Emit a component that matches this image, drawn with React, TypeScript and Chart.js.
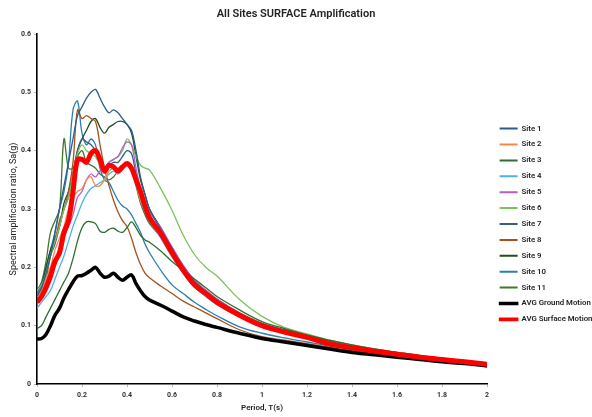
import React, { useEffect, useRef } from "react";
import { Chart, registerables } from "chart.js";

Chart.register(...registerables);

const FONT = "Roboto, 'Liberation Sans', sans-serif";

const periods = [
  0, 0.02, 0.04, 0.06, 0.08, 0.1, 0.12, 0.14, 0.16, 0.18,
  0.2, 0.22, 0.24, 0.26, 0.28, 0.3, 0.32, 0.34, 0.36, 0.38,
  0.4, 0.42, 0.44, 0.46, 0.48, 0.5,
  0.55, 0.6, 0.65, 0.7, 0.75, 0.8,
  0.9, 1, 1.1, 1.2, 1.3, 1.4, 1.5, 1.6, 1.7, 1.8, 1.9, 2,
];

const site1 = [
  0.15, 0.165, 0.19, 0.22, 0.26, 0.3, 0.34, 0.38, 0.42, 0.46,
  0.475, 0.49, 0.5, 0.505, 0.49, 0.475, 0.465, 0.47, 0.465, 0.455,
  0.445, 0.435, 0.4, 0.355, 0.325, 0.3,
  0.265, 0.232, 0.2, 0.175, 0.158, 0.143,
  0.12, 0.102, 0.091, 0.081, 0.071, 0.064, 0.058, 0.052, 0.047, 0.043, 0.039, 0.035,
];
const site2 = [
  0.15, 0.16, 0.18, 0.2, 0.23, 0.25, 0.27, 0.3, 0.32, 0.33,
  0.335, 0.35, 0.355, 0.34, 0.34, 0.35, 0.365, 0.37, 0.37, 0.375,
  0.38, 0.37, 0.345, 0.315, 0.3, 0.285,
  0.255, 0.222, 0.192, 0.168, 0.152, 0.138,
  0.117, 0.1, 0.089, 0.079, 0.07, 0.063, 0.057, 0.052, 0.047, 0.042, 0.038, 0.034,
];
const site3 = [
  0.095, 0.1, 0.115, 0.13, 0.145, 0.16, 0.175, 0.19, 0.215, 0.245,
  0.268, 0.278, 0.278, 0.275, 0.262, 0.26, 0.265, 0.267, 0.262, 0.26,
  0.268, 0.278, 0.268, 0.255, 0.247, 0.243,
  0.228, 0.21, 0.195, 0.18, 0.165, 0.15,
  0.127, 0.107, 0.095, 0.084, 0.075, 0.067, 0.06, 0.054, 0.049, 0.044, 0.04, 0.036,
];
const site4 = [
  0.13, 0.14, 0.15, 0.16, 0.18, 0.2, 0.22, 0.245, 0.27, 0.29,
  0.31, 0.325, 0.335, 0.34, 0.345, 0.35, 0.36, 0.365, 0.36, 0.37,
  0.375, 0.37, 0.345, 0.315, 0.295, 0.28,
  0.25, 0.218, 0.19, 0.166, 0.15, 0.136,
  0.115, 0.098, 0.088, 0.078, 0.069, 0.062, 0.056, 0.051, 0.046, 0.042, 0.038, 0.034,
];
const site5 = [
  0.145, 0.155, 0.175, 0.2, 0.215, 0.22, 0.25, 0.27, 0.29, 0.32,
  0.33, 0.35, 0.36, 0.355, 0.365, 0.37, 0.38, 0.385, 0.39, 0.405,
  0.415, 0.41, 0.37, 0.335, 0.31, 0.295,
  0.268, 0.235, 0.203, 0.178, 0.161, 0.146,
  0.121, 0.103, 0.092, 0.082, 0.072, 0.065, 0.059, 0.053, 0.048, 0.043, 0.039, 0.035,
];
const site6 = [
  0.16, 0.17, 0.19, 0.22, 0.245, 0.27, 0.3, 0.32, 0.36, 0.395,
  0.41, 0.4, 0.395, 0.39, 0.375, 0.37, 0.38, 0.385, 0.39, 0.4,
  0.42, 0.41, 0.39, 0.375, 0.37, 0.367,
  0.335, 0.298, 0.255, 0.222, 0.2, 0.185,
  0.145, 0.116, 0.097, 0.086, 0.075, 0.067, 0.06, 0.054, 0.049, 0.044, 0.04, 0.036,
];
const site7 = [
  0.15, 0.165, 0.19, 0.22, 0.24, 0.27, 0.3, 0.32, 0.36, 0.4,
  0.42, 0.415, 0.41, 0.4, 0.385, 0.37, 0.375, 0.38, 0.38, 0.39,
  0.4, 0.395, 0.36, 0.33, 0.31, 0.29,
  0.26, 0.227, 0.197, 0.172, 0.156, 0.141,
  0.119, 0.101, 0.09, 0.08, 0.07, 0.063, 0.057, 0.052, 0.047, 0.043, 0.039, 0.035,
];
const site8 = [
  0.15, 0.16, 0.18, 0.22, 0.245, 0.28, 0.3, 0.33, 0.38, 0.47,
  0.455, 0.46, 0.455, 0.45, 0.41, 0.37, 0.34, 0.315, 0.295, 0.28,
  0.27, 0.25, 0.225, 0.205, 0.19, 0.182,
  0.168, 0.155, 0.142, 0.132, 0.122, 0.112,
  0.093, 0.081, 0.075, 0.069, 0.063, 0.057, 0.052, 0.047, 0.043, 0.039, 0.036, 0.032,
];
const site9 = [
  0.16, 0.17, 0.2, 0.23, 0.25, 0.27, 0.31, 0.33, 0.36, 0.4,
  0.42, 0.435, 0.45, 0.455, 0.44, 0.43, 0.44, 0.445, 0.45, 0.45,
  0.445, 0.43, 0.39, 0.35, 0.325, 0.3,
  0.268, 0.234, 0.203, 0.177, 0.16, 0.145,
  0.122, 0.104, 0.093, 0.083, 0.073, 0.065, 0.059, 0.053, 0.048, 0.044, 0.04, 0.036,
];
const site10 = [
  0.155, 0.17, 0.2, 0.23, 0.26, 0.3, 0.33, 0.38, 0.47, 0.485,
  0.43, 0.41, 0.42, 0.41, 0.37, 0.35, 0.345, 0.33, 0.315, 0.305,
  0.3, 0.29, 0.275, 0.26, 0.24, 0.225,
  0.195, 0.17, 0.155, 0.14, 0.128, 0.117,
  0.098, 0.087, 0.079, 0.072, 0.065, 0.059, 0.054, 0.049, 0.044, 0.04, 0.036, 0.033,
];
const site11 = [
  0.16, 0.175, 0.21, 0.26, 0.28, 0.3, 0.42, 0.37, 0.37, 0.39,
  0.4, 0.38, 0.375, 0.37, 0.36, 0.355, 0.35, 0.355, 0.365, 0.37,
  0.375, 0.37, 0.34, 0.31, 0.29, 0.275,
  0.252, 0.22, 0.19, 0.166, 0.151, 0.137,
  0.116, 0.099, 0.088, 0.079, 0.07, 0.062, 0.056, 0.051, 0.046, 0.042, 0.038, 0.034,
];
const avgGround = [
  0.077, 0.078, 0.085, 0.1, 0.118, 0.13, 0.148, 0.162, 0.175, 0.185,
  0.186, 0.19, 0.195, 0.2, 0.19, 0.183, 0.185, 0.19, 0.183, 0.178,
  0.183, 0.187, 0.172, 0.16, 0.15, 0.144,
  0.135, 0.125, 0.115, 0.108, 0.102, 0.097,
  0.087, 0.078, 0.072, 0.066, 0.06, 0.054, 0.05, 0.046, 0.042, 0.038, 0.035, 0.031,
];
const avgSurface = [
  0.14, 0.15, 0.165, 0.185, 0.21, 0.225, 0.26, 0.28, 0.33, 0.385,
  0.385, 0.38, 0.395, 0.4, 0.385, 0.365, 0.375, 0.372, 0.365, 0.372,
  0.378, 0.37, 0.35, 0.33, 0.305, 0.285,
  0.258, 0.225, 0.195, 0.17, 0.155, 0.14,
  0.118, 0.1, 0.089, 0.08, 0.069, 0.062, 0.056, 0.051, 0.046, 0.042, 0.038, 0.034,
];

const seriesNames = [
  "Site 1", "Site 2", "Site 3", "Site 4", "Site 5", "Site 6", "Site 7",
  "Site 8", "Site 9", "Site 10", "Site 11", "AVG Ground Motion", "AVG Surface Motion",
];
const seriesValues = [
  site1, site2, site3, site4, site5, site6, site7, site8, site9, site10, site11,
  avgGround, avgSurface,
];
const seriesColors = [
  "#2b5d8c", "#f4894e", "#2f6e32", "#4cb3e6", "#b35fc4", "#7cc25e", "#34607c",
  "#a4521f", "#1e4d22", "#2a7eb0", "#3d7a2c", "#000000", "#ff0000",
];
const seriesWidths = [1.3, 1.3, 1.3, 1.3, 1.3, 1.3, 1.3, 1.3, 1.3, 1.3, 1.3, 3.5, 5];

const xTicks = [0, 0.2, 0.4, 0.6, 0.8, 1, 1.2, 1.4, 1.6, 1.8, 2];
const yTicks = [0, 0.1, 0.2, 0.3, 0.4, 0.5, 0.6];

const legendShift = {
  id: "legendShift",
  afterLayout(chart: any) {
    const l = chart.legend;
    if (l) {
      l.left += 4.5;
      l.right += 4.5;
      l.top += 15.5;
      l.bottom += 15.5;
    }
  },
};

export default function App() {
  const ref = useRef<HTMLCanvasElement>(null);
  useEffect(() => {
    if (!ref.current) return;
    const datasets = seriesNames.map((name, i) => ({
      label: name,
      data: periods.map((t, j) => ({ x: t, y: seriesValues[i][j] })),
      borderColor: seriesColors[i],
      backgroundColor: seriesColors[i],
      borderWidth: seriesWidths[i],
      pointRadius: 0,
      tension: 0.35,
      fill: false,
      order: i === 12 ? 0 : i === 11 ? 1 : 2,
    }));
    const tickFont = { family: FONT, size: 7, weight: "bold" as const };
    const chart = new Chart(ref.current, {
      type: "line",
      data: { datasets },
      plugins: [legendShift],
      options: {
        responsive: false,
        animation: false,
        layout: { padding: 0 },
        plugins: {
          title: {
            display: true,
            text: "All Sites SURFACE Amplification",
            color: "#222",
            font: { family: FONT, size: 11, weight: "600" as any },
            padding: { top: 8, bottom: 12.8 },
          },
          legend: {
            position: "right",
            maxWidth: 105,
            labels: {
              boxWidth: 18,
              boxHeight: 2,
              padding: 8.1,
              color: "#222",
              font: { family: FONT, size: 7.8, weight: "600" as any },
              generateLabels: (c: any) =>
                seriesNames.map((name, i) => ({
                  text: name,
                  datasetIndex: i,
                  hidden: !c.isDatasetVisible(i),
                  fillStyle: seriesColors[i],
                  strokeStyle: seriesColors[i],
                  fontColor: "#222",
                  lineWidth: i >= 11 ? 1.6 : 0,
                  lineCap: "butt",
                  lineDash: [],
                  lineDashOffset: 0,
                  lineJoin: "miter",
                })),
            },
          },
          tooltip: { enabled: false },
        },
        scales: {
          x: {
            type: "linear",
            min: 0,
            max: 2,
            afterBuildTicks: (s: any) => {
              s.ticks = xTicks.map((v) => ({ value: v }));
            },
            afterFit: (s: any) => {
              s.height = 33;
            },
            ticks: {
              font: tickFont,
              color: "#333",
              padding: 4,
              maxRotation: 0,
              autoSkip: false,
              callback: (v: any) => String(Number(Number(v).toFixed(1))),
            },
            grid: { display: true, drawOnChartArea: false, tickLength: 3, color: "#bbbbbb" },
            border: { color: "#000", width: 1.6 },
            title: {
              display: true,
              text: "Period, T(s)",
              color: "#222",
              font: { family: FONT, size: 8, weight: "600" as any },
              padding: { top: 2, bottom: 4 },
            },
          },
          y: {
            type: "linear",
            min: 0,
            max: 0.6,
            afterBuildTicks: (s: any) => {
              s.ticks = yTicks.map((v) => ({ value: v }));
            },
            afterFit: (s: any) => {
              s.width = 37;
            },
            ticks: {
              font: tickFont,
              color: "#333",
              padding: 3,
              callback: (v: any) => String(Number(Number(v).toFixed(1))),
            },
            grid: { display: true, drawOnChartArea: false, tickLength: 3, color: "#bbbbbb" },
            border: { color: "#000", width: 1.6 },
            title: {
              display: true,
              text: "Spectral amplification ratio, Sa(g)",
              color: "#222",
              font: { family: FONT, size: 9 },
              padding: { top: 8, bottom: 2 },
            },
          },
        },
      },
    } as any);
    return () => chart.destroy();
  }, []);
  return (
    <div style={{ position: "fixed", left: 0, top: 0, width: 592, height: 417, background: "#fff" }}>
      <canvas ref={ref} width={592} height={417} style={{ display: "block", width: 592, height: 417 }} />
    </div>
  );
}
